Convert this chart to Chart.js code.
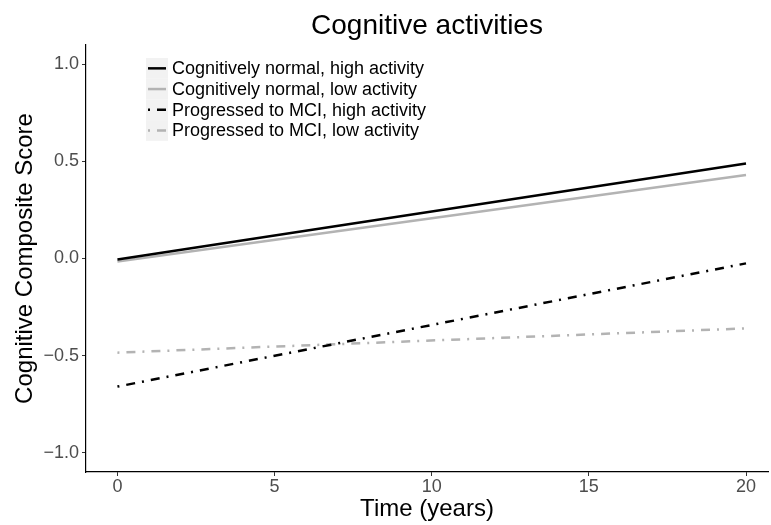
<!DOCTYPE html>
<html>
<head>
<meta charset="utf-8">
<script src="https://cdn.jsdelivr.net/npm/chart.js@4"></script>
<style>
  html, body { margin: 0; padding: 0; background: #fff; }
  #wrap { width: 771px; height: 525px; position: relative; }
</style>
</head>
<body>
<div id="wrap"><canvas id="grafico"></canvas></div>
<script>
// dados
const anos = [0, 20];
const normalAlta = [-0.005, 0.49];
const normalBaixa = [-0.015, 0.43];
const mciAlta = [-0.66, -0.025];
const mciBaixa = [-0.485, -0.36];
const ticksX = [0, 5, 10, 15, 20];
const ticksY = [-1, -0.5, 0, 0.5, 1];
const rotulos = [
  "Cognitively normal, high activity",
  "Cognitively normal, low activity",
  "Progressed to MCI, high activity",
  "Progressed to MCI, low activity"
];
const titulo = "Cognitive activities";

const fonte = "'Liberation Sans', Arial, sans-serif";
const pontilhado = [2, 7, 9, 7];

function serie(label, valores, cor, tracejado) {
  return {
    label: label,
    data: anos.map((a, i) => ({ x: a, y: valores[i] })),
    borderColor: cor,
    borderWidth: 2.5,
    borderDash: tracejado,
    pointRadius: 0,
    fill: false,
    tension: 0
  };
}

// título centrado no painel + legenda desenhada à mão, estilo ggplot
const legendaPlugin = {
  id: "legendaGG",
  afterDraw(chart) {
    const ctx = chart.ctx;
    const area = chart.chartArea;
    ctx.save();
    ctx.fillStyle = "#000";
    ctx.font = "28px " + fonte;
    ctx.textAlign = "center";
    ctx.textBaseline = "middle";
    ctx.fillText(titulo, (area.left + area.right) / 2, 26);

    const x0 = 146, y0 = 58, h = 20.7;
    ctx.textAlign = "left";
    chart.data.datasets.forEach((ds, i) => {
      const cy = y0 + h * i + h / 2;
      ctx.fillStyle = "#f2f2f2";
      ctx.fillRect(x0, y0 + h * i, 22, h);
      ctx.strokeStyle = ds.borderColor;
      ctx.lineWidth = 2.5;
      ctx.setLineDash(ds.borderDash || []);
      ctx.beginPath();
      ctx.moveTo(x0 + 2, cy);
      ctx.lineTo(x0 + 20, cy);
      ctx.stroke();
      ctx.setLineDash([]);
      ctx.fillStyle = "#000";
      ctx.font = "18px " + fonte;
      ctx.fillText(ds.label, x0 + 26, cy + 1);
    });
    ctx.restore();
  }
};

new Chart(document.getElementById("grafico"), {
  type: "line",
  data: {
    datasets: [
      serie(rotulos[0], normalAlta, "#000000", []),
      serie(rotulos[1], normalBaixa, "#b3b3b3", []),
      serie(rotulos[2], mciAlta, "#000000", pontilhado),
      serie(rotulos[3], mciBaixa, "#b3b3b3", pontilhado)
    ]
  },
  options: {
    responsive: true,
    maintainAspectRatio: false,
    animation: false,
    layout: { padding: { top: 45, right: 3, bottom: 0, left: 0 } },
    plugins: {
      legend: { display: false },
      tooltip: { enabled: false }
    },
    scales: {
      x: {
        type: "linear",
        min: -1,
        max: 20.7,
        afterBuildTicks: (s) => { s.ticks = ticksX.map(v => ({ value: v })); },
        afterFit: (s) => { s.height = 53; },
        border: { display: true, color: "#000", width: 1.2 },
        grid: { drawOnChartArea: false, color: "#333", tickLength: 4 },
        ticks: { color: "#4d4d4d", font: { family: fonte, size: 18 }, padding: 0 },
        title: {
          display: true,
          text: "Time (years)",
          color: "#000",
          font: { family: fonte, size: 24 },
          padding: { top: 0, bottom: 1 }
        }
      },
      y: {
        type: "linear",
        min: -1.1,
        max: 1.1,
        afterBuildTicks: (s) => { s.ticks = ticksY.map(v => ({ value: v })); },
        afterFit: (s) => { s.width = 86; },
        border: { display: true, color: "#000", width: 1.2 },
        grid: { drawOnChartArea: false, color: "#333", tickLength: 4 },
        ticks: {
          color: "#4d4d4d",
          font: { family: fonte, size: 18 },
          padding: 3,
          callback: (v) => (v < 0 ? "\u2212" : "") + Math.abs(v).toFixed(1)
        },
        title: {
          display: true,
          text: "Cognitive Composite Score",
          color: "#000",
          font: { family: fonte, size: 24 },
          padding: { top: 11, bottom: 4 }
        }
      }
    }
  },
  plugins: [legendaPlugin]
});
</script>
</body>
</html>
